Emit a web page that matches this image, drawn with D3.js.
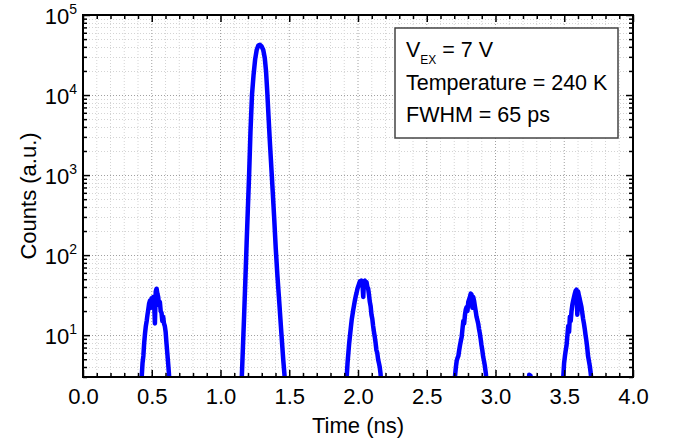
<!DOCTYPE html>
<html><head><meta charset="utf-8">
<script src="https://cdn.jsdelivr.net/npm/d3@7"></script>
<style>
body{margin:0;background:#fff}
text{font-family:Arial,"Liberation Sans",sans-serif;fill:#000}
</style>
</head><body>
<svg id="chart" width="677" height="441"></svg>
<script>
// ---- tick labels / annotation ----
const xTicks = [0, 0.5, 1, 1.5, 2, 2.5, 3, 3.5, 4];
const yDecades = [10, 100, 1000, 10000, 100000];
const xTitle = "Time (ns)";
const yTitle = "Counts (a.u.)";
const legendLine2 = "Temperature = 240 K";
const legendLine3 = "FWHM = 65 ps";

// ---- data: time (ns) and counts for each peak ----
const peakATime = [0.415,0.427,0.433,0.439,0.445,0.451,0.457,0.463,0.469,0.475,0.481,0.487,0.493,0.499,0.505,0.511,0.517,0.523,0.529,0.535,0.541,0.547,0.553,0.559,0.565,0.571,0.577,0.583,0.589,0.595,0.601,0.607,0.613,0.619,0.625,0.632,0.640];
const peakACounts = [1,3,4.5,5.5,8,10.5,13,15,18,21,25,27,22,29,24,30,26,14,35,38,33,30,24,26,20,19,15,17,14,13,11,8,6,4.5,3.3,2,1];

const mainTime = [1.140,1.155,1.163,1.172,1.181,1.190,1.199,1.208,1.218,1.229,1.240,1.252,1.263,1.275,1.287,1.299,1.311,1.322,1.331,1.340,1.349,1.358,1.368,1.378,1.390,1.402,1.414,1.428,1.442,1.456,1.468,1.480];
const mainCounts = [1,3,7,18,50,140,380,1000,3500,10000,17500,28000,36500,41500,42500,40500,36500,29000,20000,11000,5500,2800,1400,700,300,120,55,25,11,5,2.8,1];

const peakBTime = [1.905,1.918,1.924,1.930,1.936,1.942,1.948,1.954,1.960,1.966,1.972,1.978,1.984,1.990,1.996,2.002,2.008,2.014,2.020,2.026,2.032,2.038,2.044,2.050,2.056,2.062,2.068,2.074,2.080,2.086,2.092,2.098,2.104,2.110,2.116,2.122,2.128,2.134,2.140,2.146,2.152,2.158,2.164,2.172,2.180];
const peakBCounts = [1,3,4.5,6,8,10,12.5,15.5,18,21,24,27.5,31,34,38,41,44,47,42,48,46,30,47,48,43,46,40,38,32,26,23,18,16,13,11,9.5,8,6.5,6,5,4.5,4,3.3,2,1];

const peakCTime = [2.695,2.705,2.712,2.718,2.724,2.730,2.736,2.742,2.748,2.754,2.760,2.766,2.772,2.778,2.784,2.790,2.796,2.802,2.808,2.814,2.820,2.826,2.832,2.838,2.844,2.850,2.856,2.862,2.868,2.874,2.880,2.886,2.892,2.898,2.904,2.910,2.916,2.922,2.930,2.938,2.948];
const peakCCounts = [1,3,4,4.8,5.2,5.5,6.5,7.5,8.5,9.5,12,15,14,18,21,22.5,20,26,28,30,33,32,22,30,27,23,20,17,15.5,14,12,10.5,9,7.5,6.5,5.4,4.8,4.2,3.3,2,1];

const blipTime = [3.235,3.245,3.255,3.265];
const blipCounts = [1,3.2,3.1,1];

const peakDTime = [3.482,3.493,3.499,3.505,3.511,3.517,3.523,3.529,3.535,3.541,3.547,3.553,3.559,3.565,3.571,3.577,3.583,3.589,3.595,3.601,3.607,3.613,3.619,3.625,3.631,3.637,3.643,3.649,3.655,3.661,3.667,3.673,3.679,3.685,3.692,3.700,3.708];
const peakDCounts = [1,3,4.5,5.5,6.5,7.5,10,13,11,17,15,20,24,27,30,33,36,37,18,35,31,28,25,22.5,19,16,14,12,10,8.5,7,5.5,4.8,4.2,3.4,2.5,1];

const series = [
  [peakATime, peakACounts],
  [mainTime, mainCounts],
  [peakBTime, peakBCounts],
  [peakCTime, peakCCounts],
  [blipTime, blipCounts],
  [peakDTime, peakDCounts]
];

// ---- layout ----
const L = 83, R = 633, T = 15, B = 377;
const svg = d3.select("#chart");
const x = d3.scaleLinear().domain([0, 4]).range([L, R]);
const y = d3.scaleLog().domain([3, 1e5]).range([B, T]);

// minor / major grid values
const xMinor = d3.range(0, 41).map(i => i / 10).filter(v => xTicks.indexOf(v) < 0);
const yMinor = [];
[1, 10, 100, 1000, 10000].forEach(dec => { for (let k = 2; k <= 9; k++) { const v = dec * k; if (v >= 3 && v < 1e5) yMinor.push(v); } });

const grid = svg.append("g");
grid.selectAll(".gxm").data(xMinor).join("line")
  .attr("x1", d => x(d)).attr("x2", d => x(d)).attr("y1", T).attr("y2", B)
  .attr("stroke", "#d4d4d4").attr("stroke-width", 1).attr("stroke-dasharray", "1,2");
grid.selectAll(".gym").data(yMinor).join("line")
  .attr("y1", d => Math.round(y(d)) + 0.5).attr("y2", d => Math.round(y(d)) + 0.5).attr("x1", L).attr("x2", R)
  .attr("stroke", "#d4d4d4").attr("stroke-width", 1).attr("stroke-dasharray", "1,2");
grid.selectAll(".gxM").data(xTicks).join("line")
  .attr("x1", d => x(d)).attr("x2", d => x(d)).attr("y1", T).attr("y2", B)
  .attr("stroke", "#a0a0a0").attr("stroke-width", 1).attr("stroke-dasharray", "1,2");
grid.selectAll(".gyM").data(yDecades).join("line")
  .attr("y1", d => Math.round(y(d)) + 0.5).attr("y2", d => Math.round(y(d)) + 0.5).attr("x1", L).attr("x2", R)
  .attr("stroke", "#a0a0a0").attr("stroke-width", 1).attr("stroke-dasharray", "1,2");

// clip
svg.append("clipPath").attr("id", "clip").append("rect")
  .attr("x", L).attr("y", T).attr("width", R - L).attr("height", B - T);

const line = d3.line().x(d => x(d[0])).y(d => y(d[1]));
svg.append("g").attr("clip-path", "url(#clip)")
  .selectAll("path").data(series).join("path")
  .attr("d", s => line(s[0].map((t, i) => [t, s[1][i]])))
  .attr("fill", "none").attr("stroke", "#0000ff").attr("stroke-width", 4.5)
  .attr("stroke-linejoin", "round").attr("stroke-linecap", "round");

// legend box
const lg = svg.append("g");
lg.append("rect").attr("x", 395).attr("y", 28).attr("width", 223).attr("height", 110)
  .attr("fill", "#fff").attr("stroke", "#444").attr("stroke-width", 1.5);
const t1 = lg.append("text").attr("x", 406).attr("y", 57).attr("font-size", 21.5);
t1.append("tspan").text("V");
t1.append("tspan").attr("font-size", 12).attr("dy", 7).text("EX");
t1.append("tspan").attr("dy", -7).text(" = 7 V");
lg.append("text").attr("x", 406).attr("y", 90).attr("font-size", 21.5).text(legendLine2);
lg.append("text").attr("x", 406).attr("y", 122).attr("font-size", 21.5).text(legendLine3);

// axes (ticks inward on all sides)
function styleAxis(g) { g.select(".domain").remove(); g.selectAll(".tick line").attr("stroke", "#000").attr("stroke-width", 1.5); }
svg.append("g").attr("transform", `translate(0,${B})`)
  .call(d3.axisBottom(x).tickValues(xMinor).tickSize(-4).tickFormat("")).call(styleAxis);
svg.append("g").attr("transform", `translate(0,${B})`)
  .call(d3.axisBottom(x).tickValues(xTicks).tickSize(-7).tickPadding(11).tickFormat(d3.format(".1f")))
  .call(styleAxis)
  .call(g => g.selectAll("text").attr("font-size", 22).attr("font-family", "Arial, Liberation Sans, sans-serif"));
svg.append("g").attr("transform", `translate(0,${T})`)
  .call(d3.axisTop(x).tickValues(xMinor).tickSize(-4).tickFormat("")).call(styleAxis);
svg.append("g").attr("transform", `translate(0,${T})`)
  .call(d3.axisTop(x).tickValues(xTicks).tickSize(-7).tickFormat("")).call(styleAxis);
svg.append("g").attr("transform", `translate(${L},0)`)
  .call(d3.axisLeft(y).tickValues(yMinor).tickSize(-4).tickFormat("")).call(styleAxis);
svg.append("g").attr("transform", `translate(${L},0)`)
  .call(d3.axisLeft(y).tickValues(yDecades).tickSize(-7).tickFormat("")).call(styleAxis);
svg.append("g").attr("transform", `translate(${R},0)`)
  .call(d3.axisRight(y).tickValues(yMinor).tickSize(-4).tickFormat("")).call(styleAxis);
svg.append("g").attr("transform", `translate(${R},0)`)
  .call(d3.axisRight(y).tickValues(yDecades).tickSize(-7).tickFormat("")).call(styleAxis);

// frame
svg.append("rect").attr("x", L).attr("y", T).attr("width", R - L).attr("height", B - T)
  .attr("fill", "none").attr("stroke", "#000").attr("stroke-width", 2);

// y tick labels with superscripts
const yl = svg.append("g").selectAll("text").data(yDecades).join("text")
  .attr("x", 77).attr("y", d => y(d) + 9).attr("text-anchor", "end").attr("font-size", 22);
yl.append("tspan").text("10");
yl.append("tspan").attr("font-size", 14).attr("dy", -10).text(d => Math.round(Math.log10(d)));

// titles
svg.append("text").attr("x", (L + R) / 2).attr("y", 433).attr("text-anchor", "middle").attr("font-size", 22).text(xTitle);
svg.append("text").attr("transform", `translate(36,${(T + B) / 2}) rotate(-90)`)
  .attr("text-anchor", "middle").attr("font-size", 22).text(yTitle);
</script>
</body></html>
